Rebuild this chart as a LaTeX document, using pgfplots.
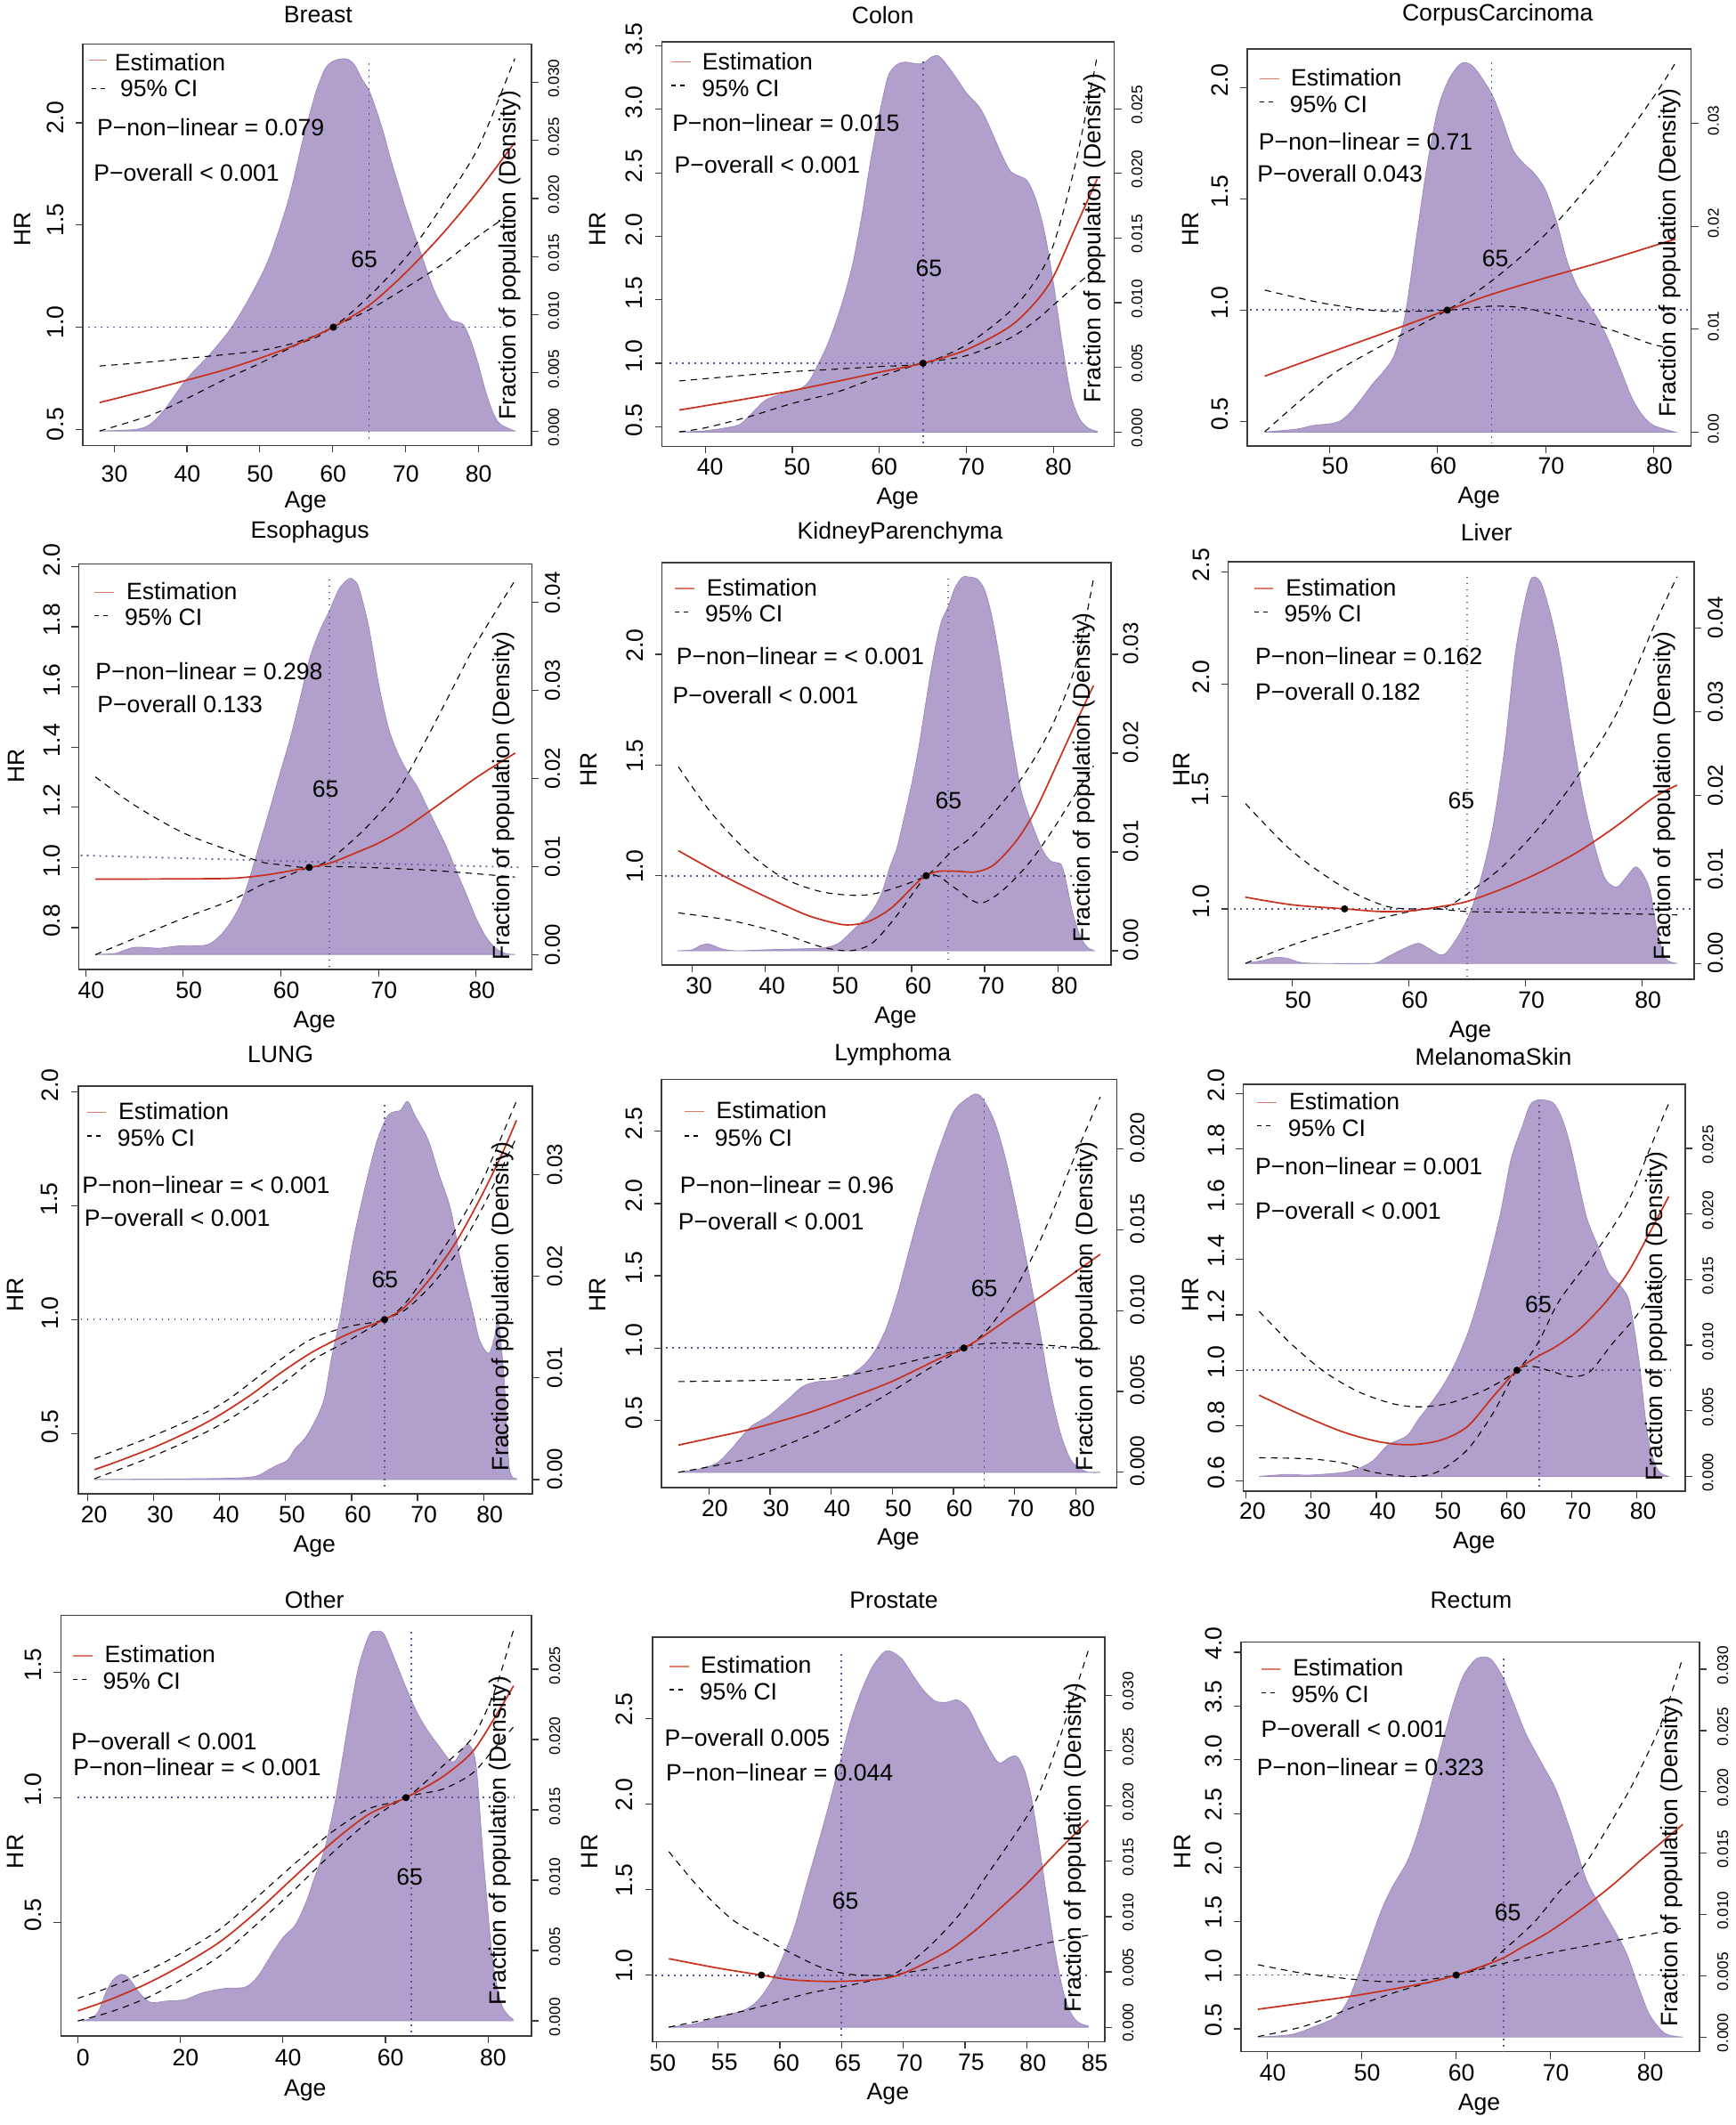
\documentclass[border=0pt]{standalone}
\usepackage{pgfplots}
\pgfplotsset{compat=1.18}
\usepackage{fontspec}
\setmainfont{Liberation Sans}
\definecolor{densc}{HTML}{B0A0CB}
\definecolor{densd}{HTML}{9D8CC0}
\definecolor{estc}{HTML}{C8301E}
\definecolor{estl}{HTML}{E07A68}
\definecolor{dotc}{HTML}{5B5596}
\definecolor{boxc}{HTML}{3A3A3A}
\newcommand\mf{\fontsize{13.3}{15}\selectfont}
\tikzset{
 hrest/.style={draw=estc,line width=.85pt,smooth},
 hrci/.style={draw=black,line width=.55pt,smooth,dash pattern=on 3.6pt off 3pt},
 hrdot/.style={draw=dotc,line width=.9pt,dash pattern=on .9pt off 2.6pt},
 hrpt/.style={only marks,mark=*,mark size=1.8pt,mark options={fill=black,draw=black}},
 hrdens/.style={fill=densc,draw=densd,line width=.4pt,smooth},
}
\newcommand\setup[6]{\def\ox{#1}\def\oy{#2}\def\cL{#3}\def\cR{#4}\def\cT{#5}\def\cB{#6}%
 \ifnum#1=1290 \def\sx{2.379}\else\def\sx{2.412}\fi
 \ifnum#2=1760 \def\sy{2.501}\else\def\sy{2.658}\fi
 \pgfmathsetmacro\AL{(#1+#3/\sx)*0.5}\pgfmathsetmacro\AB{(2387-#2-#6/\sy)*0.5}%
 \pgfmathsetmacro\AW{(#4-#3)/\sx*0.5}\pgfmathsetmacro\AH{(#6-#5)/\sy*0.5}}
\newcommand\xcal[4]{\pgfmathsetmacro\xmn{#1+(\cL-#2)/(#4-#2)*(#3-#1)}\pgfmathsetmacro\xmx{#1+(\cR-#2)/(#4-#2)*(#3-#1)}}
\newcommand\ycal[4]{\pgfmathsetmacro\ymn{#1+(\cB-#2)/(#4-#2)*(#3-#1)}\pgfmathsetmacro\ymx{#1+(\cT-#2)/(#4-#2)*(#3-#1)}}
\newcommand\dcal[2]{\pgfmathsetmacro\dmn{(#1-\cB)/#2/1000}\pgfmathsetmacro\dmx{(#1-\cT)/#2/1000}}
\newcommand\ticks[8]{% xlaby xdx ylabx ydy rlabx rdy rsize rprec
 \pgfmathsetmacro\XLS{-(#1-\cB)/\sy*0.5+4}\pgfmathsetmacro\XDX{#2/\sx*0.5}%
 \pgfmathsetmacro\YLX{(#3-\cL)/\sx*0.5+4}\pgfmathsetmacro\YDY{#4/\sy*0.5}%
 \pgfmathsetmacro\RLX{(#5-\cR)/\sx*0.5-4}\pgfmathsetmacro\RDY{#6/\sy*0.5}%
 \def\rs{#7}\def\rp{#8}}
\pgfplotsset{
 baseax/.style={at={(\AL pt,\AB pt)},anchor=south west,scale only axis,width=\AW pt,height=\AH pt,
   xmin=\xmn,xmax=\xmx,tick align=outside,major tick length=4pt,
   axis line style={draw=boxc,line width=.8pt},tick style={draw=boxc,line width=.6pt},scaled ticks=false},
 densax/.style={baseax,ymin=\dmn,ymax=\dmx,axis x line=none,axis y line*=right,
   yticklabel style={anchor=center,xshift=\RLX pt,yshift=\RDY pt,rotate=90,font=\fontsize{\rs}{\rs}\selectfont,
     /pgf/number format/.cd,fixed,fixed zerofill,precision=\rp,assume math mode=true}},
 hrax/.style={baseax,ymin=\ymn,ymax=\ymx,xtick pos=bottom,ytick pos=left,
   xticklabel style={anchor=center,xshift=\XDX pt,yshift=\XLS pt,font=\mf,
     /pgf/number format/.cd,fixed,precision=0,assume math mode=true},
   yticklabel style={anchor=center,xshift=\YLX pt,yshift=\YDY pt,rotate=90,font=\mf,
     /pgf/number format/.cd,fixed,fixed zerofill,precision=1,assume math mode=true}},
}
\newcommand\Tc[3]{\node[anchor=center,inner sep=0pt,font=\mf] at ({(\ox+#1/\sx)*0.5pt},{(2387-\oy-#2/\sy)*0.5pt}) {#3};}
\newcommand\Tl[3]{\node[anchor=west,inner sep=0pt,font=\mf] at ({(\ox+#1/\sx)*0.5pt},{(2387-\oy-#2/\sy)*0.5pt}) {#3};}
\newcommand\Tr[3]{\node[anchor=center,inner sep=0pt,rotate=90,font=\mf] at ({(\ox+#1/\sx)*0.5pt},{(2387-\oy-#2/\sy)*0.5pt}) {#3};}
\newcommand\Frac[3]{\node[anchor=center,inner sep=0pt,rotate=90,font=\fontsize{#3}{#3}\selectfont] at ({(\ox+#1/\sx)*0.5pt},{(2387-\oy-#2/\sy)*0.5pt}) {Fraction of population (Density)};}
\newcommand\Leg[8]{% x1 x2 y estx esty | x1d x2d yd  (CI text separately)
 \draw[estl,line width=.7pt] ({(\ox+#1/\sx)*0.5pt},{(2387-\oy-#3/\sy)*0.5pt}) -- ({(\ox+#2/\sx)*0.5pt},{(2387-\oy-#3/\sy)*0.5pt});
 \Tl{#4}{#5}{Estimation}
 \draw[black,line width=.6pt,dash pattern=on 2.5pt off 2.5pt] ({(\ox+#6/\sx)*0.5pt},{(2387-\oy-#8/\sy)*0.5pt}) -- ({(\ox+#7/\sx)*0.5pt},{(2387-\oy-#8/\sy)*0.5pt});}
\begin{document}
\begin{tikzpicture}
\useasboundingbox (0,0) rectangle (974.5pt,1193.5pt);
%% ---------- Breast
\setup{0}{0}{224}{1440}{132}{1330}\xcal{30}{309}{80}{1296}\ycal{0.5}{1282}{2.0}{367}\dcal{1287}{34.7}
\ticks{1415}{1}{150}{15}{1500}{11}{8.6}{3}
\begin{axis}[densax,ytick={0,0.005,0.01,0.015,0.02,0.025,0.03}]
\addplot[hrdens] coordinates {(28,0)(33,.00014)(35,.0006)(37,.0019)(40,.0045)(43,.0065)(46,.0088)(48.8,.0117)(51.3,.0149)(53.9,.0198)(55.9,.025)(57.4,.0285)(58,.0297)(59,.0312)(60,.0318)(61,.032)(62,.032)(63,.0315)(64,.0303)(65,.0293)(66,.0276)(67,.0256)(68,.0233)(70,.0192)(72,.0155)(74,.012)(76,.0097)(77,.0094)(78,.0091)(79,.0077)(80,.0057)(81,.0034)(82,.0016)(83,.0006)(85,0)} \closedcycle;
\end{axis}
\begin{axis}[hrax,xtick={30,40,50,60,70,80},ytick={0.5,1,1.5,2}]
\addplot[hrdot] coordinates {(65,2.29)(65,.438)};
\addplot[hrdot] coordinates {(26.5,1)(84,1)};
\addplot[hrci] coordinates {(28,.81)(35,.83)(40,.848)(45,.865)(50,.885)(55,.926)(60,1)(65,1.151)(70,1.339)(72.5,1.46)(75,1.593)(80,1.88)(85,2.315)};
\addplot[hrci] coordinates {(28,.492)(35,.569)(40,.651)(45,.741)(50,.823)(55,.913)(58,.954)(60,1)(65,1.085)(70,1.192)(75,1.307)(80,1.446)(85,1.569)};
\addplot[hrest] coordinates {(28,.631)(35,.694)(40,.741)(45,.79)(50,.848)(55,.915)(60,1)(65,1.107)(70,1.266)(75,1.454)(80,1.667)(85,1.905)};
\addplot[hrpt] coordinates {(60.1,1)};
\end{axis}
\Tc{862}{45}{Breast}\Tr{62}{685}{HR}\Tc{828}{1500}{Age}\Frac{1380}{762}{13.3}
\Leg{240}{290}{180}{310}{187}{248}{292}{265}\Tl{325}{265}{95\% CI}
\Tl{262}{380}{P−non−linear = 0.079}\Tl{253}{517}{P−overall < 0.001}\Tc{987}{775}{65}
%% ---------- Colon
\setup{640}{0}{250}{1475}{125}{1333}\xcal{40}{367}{80}{1311}\ycal{0.5}{1274}{3.5}{137}\dcal{1290}{38.6}
\ticks{1395}{13}{175}{20}{1537}{12}{8.6}{3}
\begin{axis}[densax,ytick={0,0.005,0.01,0.015,0.02,0.025}]
\addplot[hrdens] coordinates {(37,0)(40,.0001)(43,.0004)(44,.0006)(45,.0012)(46,.0019)(47,.0025)(49,.003)(51,.0034)(52,.004)(53,.0053)(54,.0067)(55,.0085)(56,.0106)(57,.0132)(58,.0168)(59,.021)(60,.0246)(61,.0275)(62,.0284)(63,.0286)(64,.0285)(65,.0285)(66,.029)(66.7,.0291)(67.5,.0286)(69,.0272)(70,.0262)(71.5,.0251)(72.5,.0238)(74,.0215)(75,.0202)(76,.0198)(77,.0194)(78,.0179)(79,.0153)(80,.0114)(81,.0067)(82,.0028)(83,.001)(84,.0003)(85,.00005)} \closedcycle;
\end{axis}
\begin{axis}[hrax,xtick={40,50,60,70,80},ytick={0.5,1,1.5,2,2.5,3,3.5}]
\addplot[hrdot] coordinates {(65,3.375)(65,.34)};
\addplot[hrdot] coordinates {(35.9,1)(85,1)};
\addplot[hrci] coordinates {(37,.86)(45,.908)(50,.934)(55,.953)(60,.974)(65,1)(70,1.145)(75,1.409)(78,1.66)(80,1.937)(82.5,2.57)(85,3.42)};
\addplot[hrci] coordinates {(37,.459)(40,.491)(45,.578)(50,.683)(55,.77)(60,.894)(65,1)(70,1.06)(75,1.198)(78,1.34)(80,1.46)(82.5,1.61)(85,1.752)};
\addplot[hrest] coordinates {(37,.631)(40,.665)(45,.723)(50,.784)(55,.855)(60,.929)(65,1)(70,1.106)(75,1.29)(78,1.488)(80,1.686)(82.5,2.069)(85,2.451)};
\addplot[hrpt] coordinates {(65,1)};
\end{axis}
\Tc{848}{45}{Colon}\Tr{75}{685}{HR}\Tc{888}{1490}{Age}\Frac{1422}{712}{13.3}
\Leg{275}{327}{185}{358}{183}{275}{318}{255}\Tl{357}{263}{95\% CI}
\Tl{277}{367}{P−non−linear = 0.015}\Tl{283}{492}{P−overall < 0.001}\Tc{973}{800}{65}
%% ---------- CorpusCarcinoma
\setup{1290}{0}{264}{1450}{146}{1332}\xcal{50}{484}{80}{1350}\ycal{0.5}{1258}{2.0}{262}\dcal{1290}{30.7}
\ticks{1390}{15}{192}{22}{1510}{9}{8.6}{2}
\begin{axis}[densax,ytick={0,0.01,0.02,0.03}]
\addplot[hrdens] coordinates {(44,0)(47,.0003)(48.5,.00065)(50,.0008)(51,.0011)(52,.002)(53,.0033)(54,.0047)(55,.0059)(56,.0075)(57,.0114)(58,.0186)(59,.0257)(60,.0313)(61,.0342)(62,.0357)(62.7,.0359)(63.5,.0353)(65,.0329)(66,.0303)(67,.0274)(68,.0261)(69,.0251)(70,.0235)(71,.0205)(72,.0166)(73,.014)(74,.0124)(75,.0107)(76,.0085)(77,.0059)(78,.0033)(79,.0016)(80,.00065)(82,0)} \closedcycle;
\end{axis}
\begin{axis}[hrax,xtick={50,60,70,80},ytick={0.5,1,1.5,2}]
\addplot[hrdot] coordinates {(65,2.114)(65,.401)};
\addplot[hrdot] coordinates {(42.66,1)(83.5,1)};
\addplot[hrci] coordinates {(44,.453)(50,.702)(55,.845)(60.9,1)(65,1.131)(70,1.342)(75,1.62)(80,1.959)(82,2.11)};
\addplot[hrci] coordinates {(44,1.09)(47,1.056)(50,1.026)(55,.995)(60.9,1)(65,1.018)(68,1.01)(70,.988)(75,.928)(80,.845)(82,.83)};
\addplot[hrest] coordinates {(44,.703)(50,.809)(55,.896)(60,.985)(60.9,1)(65,1.071)(70,1.145)(75,1.214)(80,1.289)(82,1.319)};
\addplot[hrpt] coordinates {(60.9,1)};
\end{axis}
\Tc{933}{45}{CorpusCarcinoma}\Tr{112}{685}{HR}\Tc{883}{1485}{Age}\Frac{1392}{755}{13.3}
\Leg{297}{349}{235}{380}{232}{297}{340}{305}\Tl{377}{312}{95\% CI}
\Tl{294}{423}{P−non−linear = 0.71}\Tl{290}{518}{P−overall 0.043}\Tc{927}{773}{65}
%% ---------- Esophagus
\setup{0}{580}{213}{1441}{142}{1353}\xcal{40}{232}{80}{1290}\ycal{0.8}{1228}{2.0}{150}\dcal{1308}{26.275}
\ticks{1415}{15}{140}{20}{1497}{29}{12}{2}
\begin{axis}[densax,ytick={0,0.01,0.02,0.03,0.04}]
\addplot[hrdens] coordinates {(41,0)(43,.0001)(44,.0005)(45,.0008)(46,.0008)(47.5,.0007)(49,.0009)(50,.001)(52,.001)(53,.0014)(54,.0024)(55,.0039)(56,.006)(57,.0094)(58,.0132)(59,.017)(60,.0209)(61,.0247)(62,.0292)(63,.0338)(64,.0368)(65,.0391)(66,.0416)(67,.0427)(67.5,.0425)(68,.0416)(69,.0372)(70,.0308)(71,.0258)(72,.0228)(73,.0207)(74,.019)(75,.0167)(76,.0144)(77,.0121)(78,.0094)(79,.0068)(80,.0041)(81,.002)(82,.0007)(83,.0001)(84,0)} \closedcycle;
\end{axis}
\begin{axis}[hrax,xtick={40,50,60,70,80},ytick={0.8,1,1.2,1.4,1.6,1.8,2}]
\addplot[hrdot] coordinates {(65,1.958)(65,.664)};
\addplot[hrdot] coordinates {(39.5,1.04)(84.7,1)};
\addplot[hrci] coordinates {(41,1.301)(45,1.207)(50,1.115)(55,1.053)(58,1.018)(60,1.009)(62.9,1)(65,1.026)(68,1.109)(70,1.176)(72,1.254)(75,1.432)(78,1.621)(80,1.744)(84,1.955)};
\addplot[hrci] coordinates {(41,.71)(45,.764)(50,.831)(55,.892)(58,.942)(60,.964)(62.9,1)(65,1.003)(68,1.001)(72,.996)(76,.989)(80,.979)(84,.968)};
\addplot[hrest] coordinates {(41,.961)(50,.962)(55,.964)(58,.973)(60,.983)(62.9,1)(65,1.014)(68,1.053)(70,1.081)(72.5,1.126)(75,1.182)(78,1.252)(80,1.298)(82,1.34)(84,1.38)};
\addplot[hrpt] coordinates {(62.9,1)};
\end{axis}
\Tc{840}{47}{Esophagus}\Tr{45}{745}{HR}\Tc{852}{1510}{Age}\Frac{1365}{835}{13.3}
\Leg{256}{308}{227}{342}{224}{256}{300}{297}\Tl{337}{302}{95\% CI}
\Tl{258}{463}{P−non−linear = 0.298}\Tl{263}{561}{P−overall 0.133}\Tc{882}{813}{65}
%% ---------- KidneyParenchyma
\setup{640}{580}{250}{1466}{138}{1340}\xcal{30}{332}{80}{1322}\ycal{1}{1073}{2}{412}\dcal{1297}{29.5}
\ticks{1403}{18}{178}{27}{1520}{32}{12}{2}
\begin{axis}[densax,ytick={0,0.01,0.02,0.03}]
\addplot[hrdens] coordinates {(28,0)(30,.0001)(31,.0005)(32,.0007)(33,.0005)(34,.0002)(36,0)(40,.0001)(45,.0002)(48,.0003)(50,.00075)(52,.0021)(54,.0035)(55,.0045)(56,.006)(57,.0084)(58,.0104)(59,.0135)(60,.0168)(61,.0206)(62,.0253)(63,.0297)(64,.0331)(65,.0348)(66,.0368)(67,.0378)(68,.0378)(69,.0376)(70,.0365)(71,.0338)(72,.0297)(73,.025)(74,.0202)(75,.0162)(76,.0138)(77,.0118)(78,.0101)(79,.0091)(80,.0089)(80.5,.0087)(81,.0075)(82,.004)(83,.0016)(84,.0004)(85,0)} \closedcycle;
\end{axis}
\begin{axis}[hrax,xtick={30,40,50,60,70,80},ytick={1,1.5,2}]
\addplot[hrdot] coordinates {(65,2.343)(65,.599)};
\addplot[hrdot] coordinates {(26.3,1)(84.9,1)};
\addplot[hrci] coordinates {(28.1,1.492)(32.4,1.292)(37.5,1.11)(42.5,.989)(47.6,.928)(52.6,.911)(56.2,.929)(62,1)(65.3,1.103)(68.8,1.194)(74.8,1.428)(78.9,1.655)(82.4,1.943)(84.9,2.343)};
\addplot[hrci] coordinates {(28.1,.832)(34.9,.8)(41.5,.747)(47.6,.679)(51.6,.661)(54.6,.695)(57.7,.808)(60.7,.944)(62,1)(63.7,.997)(66.3,.936)(69.3,.876)(72.3,.929)(75.9,1.05)(78.9,1.186)(82.4,1.368)(84.9,1.496)};
\addplot[hrest] coordinates {(28.1,1.113)(34.4,.997)(40,.906)(45.6,.823)(49.6,.785)(51.6,.778)(54.1,.793)(57.2,.853)(60.7,.967)(62,1)(63.7,1.02)(66.3,1.02)(68.8,1.017)(71.3,1.05)(74.3,1.156)(76.9,1.292)(79.9,1.504)(82.4,1.685)(84.9,1.859)};
\addplot[hrpt] coordinates {(62,1)};
\end{axis}
\Tc{895}{50}{KidneyParenchyma}\Tr{52}{755}{HR}\Tc{883}{1497}{Age}\Frac{1392}{780}{13.3}
\Leg{285}{337}{215}{370}{212}{285}{328}{285}\Tl{366}{292}{95\% CI}
\Tl{288}{417}{P−non−linear = < 0.001}\Tl{278}{533}{P−overall < 0.001}\Tc{1026}{848}{65}
%% ---------- Liver
\setup{1290}{580}{213}{1458}{135}{1382}\xcal{50}{384}{80}{1319}\ycal{1}{1172}{2.5}{167}\dcal{1335}{25.025}
\ticks{1445}{16}{140}{22}{1515}{31}{12}{2}
\begin{axis}[densax,ytick={0,0.01,0.02,0.03,0.04}]
\addplot[hrdens] coordinates {(46,0)(47.3,.0003)(48.6,.0007)(49.6,.0006)(50.8,.0001)(53,0)(56.9,0)(58.2,.0008)(59.5,.0017)(60.8,.0024)(61.7,.0018)(62.7,.001)(63.3,.0014)(64.3,.0034)(65.3,.0062)(66.2,.0102)(67.2,.0162)(68.2,.0254)(69.1,.0366)(69.8,.0422)(70.4,.0456)(70.8,.0461)(71.4,.0452)(72.2,.0414)(73,.0362)(73.9,.0282)(74.9,.0202)(75.9,.0142)(76.8,.0102)(77.8,.0091)(78.6,.0102)(79.4,.0115)(80,.0108)(80.7,.0086)(81.3,.0038)(82,.0006)(83,0)} \closedcycle;
\end{axis}
\begin{axis}[hrax,xtick={50,60,70,80},ytick={1,1.5,2,2.5}]
\addplot[hrdot] coordinates {(65,2.481)(65,.69)};
\addplot[hrdot] coordinates {(45,1)(84.4,1)};
\addplot[hrci] coordinates {(46,1.469)(50,1.257)(54.5,1.093)(58.2,1.01)(61.4,1)(63.3,1.01)(65.9,1.1)(68.2,1.197)(71.4,1.376)(74.6,1.6)(77.8,1.869)(81,2.257)(83,2.48)};
\addplot[hrci] coordinates {(46,.757)(50,.839)(54.5,.913)(58.2,.966)(61.7,1)(65,.988)(69.8,.985)(74.6,.981)(80.7,.976)(83,.973)};
\addplot[hrest] coordinates {(46,1.052)(50,1.018)(54.5,1)(57.6,.988)(60.1,.991)(62.7,1.01)(65,1.033)(68.2,1.093)(71.4,1.167)(74.6,1.257)(77.8,1.369)(81,1.496)(83,1.551)};
\addplot[hrpt] coordinates {(54.5,1)};
\end{axis}
\Tc{903}{48}{Liver}\Tr{88}{755}{HR}\Tc{860}{1540}{Age}\Frac{1378}{835}{13.3}
\Leg{283}{333}{215}{366}{212}{283}{326}{285}\Tl{362}{292}{95\% CI}
\Tl{285}{417}{P−non−linear = 0.162}\Tl{285}{523}{P−overall 0.182}\Tc{836}{848}{65}
%% ---------- LUNG
\setup{0}{1170}{212}{1443}{133}{1350}\xcal{20}{238}{80}{1310}\ycal{0.5}{1170}{2}{150}\dcal{1307}{30.333}
\ticks{1412}{17}{135}{20}{1503}{30}{12}{2}
\begin{axis}[densax,ytick={0,0.01,0.02,0.03}]
\addplot[hrdens] coordinates {(21,0)(40,.0001)(45.3,.0003)(47.5,.001)(48.7,.0014)(50.3,.0019)(51.4,.003)(53.1,.0042)(54.8,.0062)(55.9,.0081)(57,.0121)(58.2,.0157)(59.3,.02)(60.4,.024)(62.1,.0289)(63.8,.0332)(65.4,.0357)(66.6,.0362)(67.4,.0363)(68.5,.0372)(69.6,.0358)(71.6,.0334)(73.3,.0299)(75,.0266)(76.6,.0213)(78.3,.0167)(79.4,.0137)(80.8,.0124)(81.7,.0141)(82.2,.0157)(83.1,.0101)(83.9,.0012)(85,.0001)} \closedcycle;
\end{axis}
\begin{axis}[hrax,xtick={20,30,40,50,60,70,80},ytick={0.5,1,1.5,2}]
\addplot[hrdot] coordinates {(65,1.944)(65,.257)};
\addplot[hrdot] coordinates {(18.9,1)(85,1)};
\addplot[hrci] coordinates {(21,.39)(30.2,.493)(40,.625)(49.2,.824)(54.2,.919)(59.8,.971)(65,1)(68.2,1.074)(72.2,1.235)(76.1,1.412)(80,1.62)(85,1.96)};
\addplot[hrci] coordinates {(21,.301)(30.2,.404)(40,.537)(49.2,.713)(54.2,.824)(59.8,.912)(65,1)(68.2,1.044)(72.2,1.154)(76.1,1.3)(80,1.5)(85,1.8)};
\addplot[hrest] coordinates {(21,.341)(24.6,.378)(30.2,.441)(35.8,.515)(40,.581)(44.7,.669)(49.2,.765)(54.2,.86)(59.8,.941)(65,1)(68.2,1.059)(72.2,1.191)(76.1,1.353)(80,1.56)(83,1.74)(85,1.875)};
\addplot[hrpt] coordinates {(65,1)};
\end{axis}
\Tc{760}{38}{LUNG}\Tr{42}{755}{HR}\Tc{852}{1508}{Age}\Frac{1362}{790}{13.3}
\Leg{236}{287}{212}{320}{208}{236}{280}{282}\Tl{317}{288}{95\% CI}
\Tl{222}{427}{P−non−linear = < 0.001}\Tl{228}{525}{P−overall < 0.001}\Tc{1043}{710}{65}
%% ---------- Lymphoma
\setup{640}{1170}{249}{1482}{113}{1331}\xcal{20}{377}{80}{1371}\ycal{1}{915}{2.5}{268}\dcal{1286}{48.25}
\ticks{1393}{16}{175}{23}{1538}{33}{11.3}{3}
\begin{axis}[densax,ytick={0,0.005,0.01,0.015,0.02}]
\addplot[hrdens] coordinates {(15,0)(18.4,.0002)(21.4,.0006)(23.8,.0015)(26.8,.0028)(29.8,.0035)(32.9,.0045)(35.3,.0053)(37.7,.0056)(40.7,.0057)(43.1,.006)(45.5,.0067)(47.3,.0076)(49.1,.009)(50.9,.0111)(52.8,.0138)(54.6,.0163)(56.4,.0186)(58.2,.0206)(60,.0223)(61.8,.023)(63.6,.0234)(64.8,.0231)(66.7,.0217)(68.5,.0194)(70.3,.0163)(72.1,.0128)(74,.009)(75.7,.0053)(77.5,.0024)(79.3,.0007)(81.7,.00004)(84,0)} \closedcycle;
\end{axis}
\begin{axis}[hrax,xtick={20,30,40,50,60,70,80},ytick={0.5,1,1.5,2,2.5}]
\addplot[hrdot] coordinates {(65,2.727)(65,.04)};
\addplot[hrdot] coordinates {(12,1)(84,1)};
\addplot[hrci] coordinates {(15,.768)(27.4,.775)(39.5,.791)(48.5,.861)(55.2,.93)(61.7,1)(65.4,1.121)(69.1,1.336)(72.7,1.614)(75.7,1.892)(79.9,2.333)(84,2.738)};
\addplot[hrci] coordinates {(15,.14)(21.4,.189)(27.4,.247)(36.5,.397)(43.1,.536)(48.5,.664)(55.2,.838)(61.7,1)(63.6,1.023)(67.9,1.035)(72.7,1.028)(77.5,1.012)(84,.995)};
\addplot[hrest] coordinates {(15,.328)(20,.374)(27,.44)(36,.548)(43,.655)(50,.77)(57.6,.925)(61.7,1)(65,1.085)(69.7,1.225)(73.9,1.345)(79.9,1.525)(84,1.649)};
\addplot[hrpt] coordinates {(61.7,1)};
\end{axis}
\Tc{875}{40}{Lymphoma}\Tr{75}{755}{HR}\Tc{890}{1487}{Age}\Frac{1400}{790}{13.3}
\Leg{311}{363}{208}{396}{206}{311}{355}{282}\Tl{392}{288}{95\% CI}
\Tl{298}{427}{P−non−linear = 0.96}\Tl{293}{538}{P−overall < 0.001}\Tc{1123}{737}{65}
%% ---------- MelanomaSkin
\setup{1290}{1170}{253}{1435}{128}{1343}\xcal{20}{261}{80}{1305}\ycal{0.6}{1312}{2}{155}\dcal{1298}{39.16}
\ticks{1403}{17}{182}{25}{1495}{11}{8.6}{3}
\begin{axis}[densax,ytick={0,0.005,0.01,0.015,0.02,0.025}]
\addplot[hrdens] coordinates {(22,0)(26.3,.00015)(29.7,.0001)(34.9,.0003)(37.2,.0006)(39.5,.0012)(41.8,.0024)(44.7,.0031)(46.4,.0043)(48.1,.0054)(50.1,.0068)(52.1,.0086)(54.4,.0114)(56.7,.0153)(59,.0199)(60.7,.0242)(62.5,.0268)(63.6,.0283)(64.8,.0287)(67.1,.0285)(68.5,.0273)(69.9,.025)(72.2,.0199)(74,.0176)(75.7,.0155)(77.7,.0144)(78.9,.0132)(80.3,.0089)(81.7,.003)(83.2,.0005)(85,0)} \closedcycle;
\end{axis}
\begin{axis}[hrax,xtick={20,30,40,50,60,70,80},ytick={0.6,0.8,1,1.2,1.4,1.6,1.8,2}]
\addplot[hrdot] coordinates {(65,1.958)(65,.577)};
\addplot[hrdot] coordinates {(20,1)(85.2,1)};
\addplot[hrci] coordinates {(22,1.213)(26.8,1.098)(32,.995)(37.2,.923)(42.4,.88)(46.4,.868)(51,.88)(56.7,.929)(61.6,1)(64.8,1.098)(68.2,1.255)(74,1.437)(78.6,1.607)(82,1.8)(84.9,1.964)};
\addplot[hrci] coordinates {(22,.684)(29.7,.68)(34.9,.665)(39.5,.632)(45.2,.616)(49.3,.632)(53.9,.711)(57.9,.844)(61.6,1)(64.2,1.013)(67.1,.995)(69.9,.977)(72.8,.995)(76.3,1.098)(79.7,1.189)(82,1.268)(84.9,1.352)};
\addplot[hrest] coordinates {(22,.91)(28,.844)(34.9,.777)(40.6,.741)(45.2,.731)(49.8,.747)(53.9,.795)(57.9,.904)(61.6,1)(64.8,1.05)(67.6,1.086)(71.1,1.146)(75.1,1.243)(78.6,1.352)(82,1.498)(84.9,1.628)};
\addplot[hrpt] coordinates {(61.6,1)};
\end{axis}
\Tc{922}{45}{MelanomaSkin}\Tr{112}{755}{HR}\Tc{870}{1498}{Age}\Frac{1358}{820}{13.3}
\Leg{290}{342}{182}{375}{178}{290}{333}{252}\Tl{372}{258}{95\% CI}
\Tl{285}{372}{P−non−linear = 0.001}\Tl{285}{505}{P−overall < 0.001}\Tc{1042}{785}{65}
%% ---------- Other
\setup{0}{1760}{165}{1440}{136}{1318}\xcal{0}{211}{80}{1322}\ycal{0.5}{1000}{1.5}{297}\dcal{1275}{39.48}
\ticks{1378}{14}{90}{22}{1503}{10}{8.6}{3}
\begin{axis}[densax,ytick={0,0.005,0.01,0.015,0.02,0.025}]
\addplot[hrdens] coordinates {(0,0)(2.1,.0001)(3.9,.0006)(5.7,.0022)(7.1,.003)(8.6,.0033)(10,.003)(12.2,.0019)(14.3,.0013)(17.2,.0014)(20.8,.0015)(24.4,.002)(28.7,.0023)(32.7,.0024)(35.2,.0032)(38.1,.0049)(40.2,.006)(42.4,.0068)(44.6,.0085)(46,.01)(48.2,.0123)(50.3,.0158)(52.5,.0206)(54.6,.0249)(56.8,.0274)(58.2,.0277)(59.7,.0275)(61.8,.0257)(64,.0237)(66.2,.0219)(68.3,.0206)(70.5,.0195)(72.6,.0185)(73.7,.0185)(75.2,.0194)(76.4,.0196)(77.7,.0181)(79.1,.0115)(80.9,.0044)(82.7,.0011)(84.9,.0001)} \closedcycle;
\end{axis}
\begin{axis}[hrax,xtick={0,20,40,60,80},ytick={0.5,1,1.5}]
\addplot[hrdot] coordinates {(65,1.661)(65,.047)};
\addplot[hrdot] coordinates {(0,1)(85.2,1)};
\addplot[hrci] coordinates {(0,.198)(6.4,.244)(13.6,.308)(20.8,.386)(28,.479)(35.2,.607)(42.4,.738)(49.6,.863)(56.8,.956)(64,1)(71.2,1.127)(77,1.241)(81.3,1.426)(85,1.671)};
\addplot[hrci] coordinates {(0,.108)(6.4,.144)(13.6,.201)(20.8,.279)(28,.372)(35.2,.5)(42.4,.635)(49.6,.778)(56.8,.906)(64,1)(71.2,1.034)(77,1.098)(81.3,1.198)(85,1.283)};
\addplot[hrest] coordinates {(0,.148)(6.4,.194)(13.6,.258)(20.8,.336)(28,.428)(35.2,.55)(42.4,.687)(49.6,.821)(56.8,.934)(64,1)(71.2,1.084)(77,1.184)(81.3,1.319)(85,1.447)};
\addplot[hrpt] coordinates {(64,1)};
\end{axis}
\Tc{852}{93}{Other}\Tr{42}{800}{HR}\Tc{827}{1470}{Age}\Frac{1355}{770}{13.3}
\Leg{198}{250}{250}{283}{246}{198}{242}{317}\Tl{278}{322}{95\% CI}
\Tl{192}{490}{P−overall < 0.001}\Tl{198}{562}{P−non−linear = < 0.001}\Tc{1110}{870}{65}
%% ---------- Prostate
\setup{640}{1760}{224}{1450}{197}{1334}\xcal{50}{235}{85}{1405}\ycal{1}{1147}{2.5}{426}\dcal{1293}{31.03}
\ticks{1393}{17}{148}{26}{1513}{12}{8.6}{3}
\begin{axis}[densax,ytick={0,0.005,0.01,0.015,0.02,0.025,0.03}]
\addplot[hrdens] coordinates {(51,0)(53.1,.0003)(54.9,.0009)(57,.0015)(58.2,.0024)(59.4,.0043)(60.3,.0065)(61.2,.0091)(62.1,.0127)(63,.0162)(63.9,.0198)(64.8,.0236)(65.7,.0275)(66.6,.0304)(67.5,.0326)(68.4,.0339)(69,.034)(69.9,.0333)(70.8,.0318)(71.7,.0304)(72.6,.0295)(73.5,.0294)(74.4,.0296)(75.3,.0288)(76.2,.0268)(77.1,.0249)(77.8,.0239)(78.6,.0244)(79.2,.0245)(79.8,.0233)(80.4,.0207)(81,.0165)(81.6,.012)(82.2,.0075)(82.8,.004)(83.4,.0017)(84.1,.0005)(85,.0001)} \closedcycle;
\end{axis}
\begin{axis}[hrax,xtick={50,55,60,65,70,75,80,85},ytick={1,1.5,2,2.5}]
\addplot[hrdot] coordinates {(65,2.877)(65,.64)};
\addplot[hrdot] coordinates {(49.9,1)(85,1)};
\addplot[hrci] coordinates {(51,1.722)(53.4,1.514)(56.1,1.327)(58.5,1.223)(60.9,1.129)(63.3,1.046)(65.7,1.004)(68.7,1)(69.9,1.035)(72.3,1.181)(74.7,1.368)(77.1,1.618)(78.9,1.805)(80.7,2.014)(82.5,2.347)(85,2.898)};
\addplot[hrci] coordinates {(51,.696)(54.9,.754)(58.5,.817)(62.1,.89)(64.96,.93)(68.4,.983)(69.9,1.01)(72.9,1.046)(75.9,1.098)(78.9,1.139)(81.9,1.191)(85,1.233)};
\addplot[hrest] coordinates {(51,1.096)(54.9,1.042)(58.5,1)(60.9,.973)(63.9,.963)(66.9,.969)(68.7,.983)(69.9,1.008)(71.7,1.067)(73.8,1.15)(75.9,1.265)(78,1.4)(80.1,1.54)(82.2,1.7)(85,1.905)};
\addplot[hrpt] coordinates {(58.5,1)};
\end{axis}
\Tc{878}{95}{Prostate}\Tr{55}{800}{HR}\Tc{862}{1480}{Age}\Frac{1370}{790}{13.3}
\Leg{270}{322}{280}{354}{275}{270}{314}{345}\Tl{351}{352}{95\% CI}
\Tl{256}{480}{P−overall 0.005}\Tl{260}{578}{P−non−linear = 0.044}\Tc{747}{938}{65}
%% ---------- Rectum
\setup{1290}{1760}{247}{1472}{211}{1362}\xcal{40}{318}{80}{1327}\ycal{0.5}{1298}{4}{240}\dcal{1321}{34.43}
\ticks{1422}{14}{175}{25}{1535}{11}{8.6}{3}
\begin{axis}[densax,ytick={0,0.005,0.01,0.015,0.02,0.025,0.03}]
\addplot[hrdens] coordinates {(39,0)(42.5,.0002)(44.8,.0008)(47.2,.0016)(48.4,.0028)(49.6,.005)(50.8,.0076)(52,.0102)(53.2,.0122)(54.8,.0143)(55.9,.0166)(57.1,.0198)(58.3,.0233)(59.5,.0267)(60.7,.0294)(61.9,.0307)(62.7,.031)(63.7,.0308)(64.9,.0294)(66.2,.027)(67.4,.0247)(69,.0224)(70.6,.0201)(72.2,.0166)(73.8,.0128)(75.4,.0105)(76.9,.0085)(78.1,.0067)(79.3,.0041)(80.5,.0018)(82.1,.0003)(84,0)} \closedcycle;
\end{axis}
\begin{axis}[hrax,xtick={40,50,60,70,80},ytick={0.5,1,1.5,2,2.5,3,3.5,4}]
\addplot[hrdot] coordinates {(65,3.944)(65,.295)};
\addplot[hrdot] coordinates {(37.8,1)(84.5,1)};
\addplot[hrci] coordinates {(39,.428)(44,.527)(48.8,.692)(53.6,.841)(57.5,.94)(60,1)(63.1,1.089)(64.9,1.222)(68.2,1.486)(71,1.784)(73.4,1.999)(76.1,2.379)(78.9,2.809)(81.7,3.339)(84,3.951)};
\addplot[hrci] coordinates {(39,1.096)(43.3,1.023)(47.6,.974)(52,.94)(55.9,.947)(60,1)(64.9,1.106)(69,1.189)(73.8,1.271)(78.9,1.354)(84,1.437)};
\addplot[hrest] coordinates {(39,.682)(44,.742)(48.8,.802)(53.6,.874)(57.5,.94)(60,1)(63,1.09)(65,1.16)(67,1.26)(70,1.41)(73.4,1.62)(76.6,1.84)(79.7,2.08)(84,2.4)};
\addplot[hrpt] coordinates {(60,1)};
\end{axis}
\Tc{862}{95}{Rectum}\Tr{92}{800}{HR}\Tc{884}{1510}{Age}\Frac{1397}{830}{13.3}
\Leg{302}{353}{288}{385}{283}{302}{345}{353}\Tl{381}{358}{95\% CI}
\Tl{300}{455}{P−overall < 0.001}\Tl{289}{562}{P−non−linear = 0.323}\Tc{960}{972}{65}
\end{tikzpicture}
\end{document}
